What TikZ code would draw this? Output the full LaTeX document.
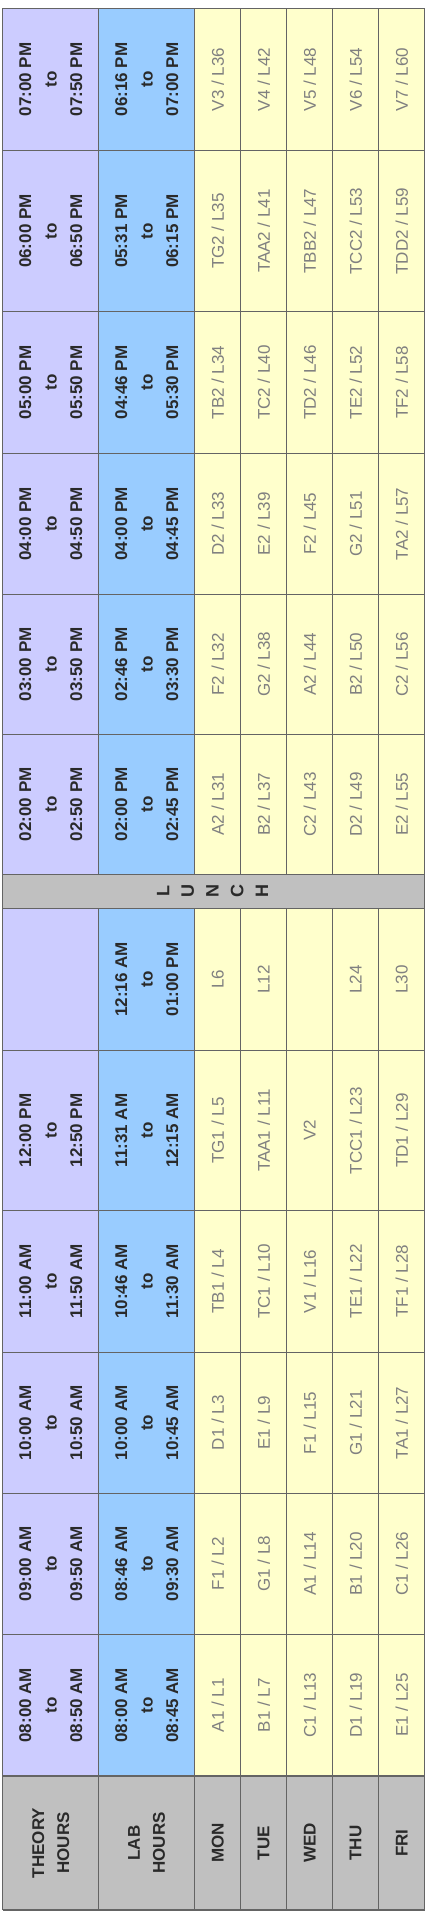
\documentclass[tikz,border=0pt]{standalone}
\usepackage{fontspec}
\setmainfont{Liberation Sans}
\definecolor{theory}{HTML}{CCCCFF}
\definecolor{labc}{HTML}{99CCFF}
\definecolor{slotc}{HTML}{FFFFCC}
\definecolor{hdrc}{HTML}{C0C0C0}
\definecolor{gridc}{HTML}{646464}
\definecolor{slottext}{HTML}{808080}
\definecolor{hdrtext}{HTML}{2A2A2A}
\newcommand\tmx[2]{#1\\to\\#2}
\newcommand\slx[2]{#1 / #2}
\tikzset{
  gridline/.style={draw=gridc, line width=1.1pt},
  timetxt/.style={rotate=90, align=center, inner sep=0pt,
    font=\fontsize{17}{25.5}\selectfont\bfseries, text=hdrtext},
  celltxt/.style={rotate=90, inner sep=0pt,
    font=\fontsize{17}{20}\selectfont, text=slottext},
  daytxt/.style={rotate=90, align=center, inner sep=0pt,
    font=\fontsize{17}{25}\selectfont\bfseries, text=hdrtext},
  lunchtxt/.style={rotate=90, align=center, inner sep=0pt,
    font=\fontsize{18}{24.7}\selectfont\bfseries, text=hdrtext}
}
\begin{document}
\begin{tikzpicture}[x=1pt,y=-1pt]
\useasboundingbox (0,0) rectangle (427,1911);
% fills
\fill[theory] (2.7,8.3) rectangle (98.7,1776);
\fill[labc] (98.7,8.3) rectangle (194.7,1776);
\fill[slotc] (194.7,8.3) rectangle (424.7,1776);
\fill[hdrc] (2.7,874.3) rectangle (424.7,908.3);
\fill[hdrc] (2.7,1776) rectangle (424.7,1910);
% grid
\foreach \y in {8.3,150.5,311.7,453.3,594.3,734.3,874.3,908.3,1050.7,1210.4,1352.3,1493.3,1634.3,1776,1910}
  \draw[gridline] (2.7,\y) -- (424.7,\y);
\draw[gridline] (2.7,8.3) -- (2.7,1910);
\draw[gridline] (424.7,8.3) -- (424.7,1910);
\foreach \x in {98.7,194.7,240.7,286.7,332.7,378.7} {
  \draw[gridline] (\x,8.3) -- (\x,874.3);
  \draw[gridline] (\x,908.3) -- (\x,1910);
}
% rows
\foreach \yt/\yb/\vT/\vL/\vA/\vB/\vC/\vD/\vE [count=\i] in {
  8.3/150.5/{\tmx{07:00 PM}{07:50 PM}}/{\tmx{06:16 PM}{07:00 PM}}/{\slx{V3}{L36}}/{\slx{V4}{L42}}/{\slx{V5}{L48}}/{\slx{V6}{L54}}/{\slx{V7}{L60}},
  150.5/311.7/{\tmx{06:00 PM}{06:50 PM}}/{\tmx{05:31 PM}{06:15 PM}}/{\slx{TG2}{L35}}/{\slx{TAA2}{L41}}/{\slx{TBB2}{L47}}/{\slx{TCC2}{L53}}/{\slx{TDD2}{L59}},
  311.7/453.3/{\tmx{05:00 PM}{05:50 PM}}/{\tmx{04:46 PM}{05:30 PM}}/{\slx{TB2}{L34}}/{\slx{TC2}{L40}}/{\slx{TD2}{L46}}/{\slx{TE2}{L52}}/{\slx{TF2}{L58}},
  453.3/594.3/{\tmx{04:00 PM}{04:50 PM}}/{\tmx{04:00 PM}{04:45 PM}}/{\slx{D2}{L33}}/{\slx{E2}{L39}}/{\slx{F2}{L45}}/{\slx{G2}{L51}}/{\slx{TA2}{L57}},
  594.3/734.3/{\tmx{03:00 PM}{03:50 PM}}/{\tmx{02:46 PM}{03:30 PM}}/{\slx{F2}{L32}}/{\slx{G2}{L38}}/{\slx{A2}{L44}}/{\slx{B2}{L50}}/{\slx{C2}{L56}},
  734.3/874.3/{\tmx{02:00 PM}{02:50 PM}}/{\tmx{02:00 PM}{02:45 PM}}/{\slx{A2}{L31}}/{\slx{B2}{L37}}/{\slx{C2}{L43}}/{\slx{D2}{L49}}/{\slx{E2}{L55}},
  908.3/1050.7/{}/{\tmx{12:16 AM}{01:00 PM}}/{L6}/{L12}/{}/{L24}/{L30},
  1050.7/1210.4/{\tmx{12:00 PM}{12:50 PM}}/{\tmx{11:31 AM}{12:15 AM}}/{\slx{TG1}{L5}}/{\slx{TAA1}{L11}}/{V2}/{\slx{TCC1}{L23}}/{\slx{TD1}{L29}},
  1210.4/1352.3/{\tmx{11:00 AM}{11:50 AM}}/{\tmx{10:46 AM}{11:30 AM}}/{\slx{TB1}{L4}}/{\slx{TC1}{L10}}/{\slx{V1}{L16}}/{\slx{TE1}{L22}}/{\slx{TF1}{L28}},
  1352.3/1493.3/{\tmx{10:00 AM}{10:50 AM}}/{\tmx{10:00 AM}{10:45 AM}}/{\slx{D1}{L3}}/{\slx{E1}{L9}}/{\slx{F1}{L15}}/{\slx{G1}{L21}}/{\slx{TA1}{L27}},
  1493.3/1634.3/{\tmx{09:00 AM}{09:50 AM}}/{\tmx{08:46 AM}{09:30 AM}}/{\slx{F1}{L2}}/{\slx{G1}{L8}}/{\slx{A1}{L14}}/{\slx{B1}{L20}}/{\slx{C1}{L26}},
  1634.3/1776/{\tmx{08:00 AM}{08:50 AM}}/{\tmx{08:00 AM}{08:45 AM}}/{\slx{A1}{L1}}/{\slx{B1}{L7}}/{\slx{C1}{L13}}/{\slx{D1}{L19}}/{\slx{E1}{L25}}%
}{
  \pgfmathsetmacro\yc{(\yt+\yb)/2}
  \node[timetxt] (th\i) at (50.7,\yc) {\vT};
  \node[timetxt] (lb\i) at (146.7,\yc) {\vL};
  \node[celltxt] (mon\i) at (217.7,\yc) {\vA};
  \node[celltxt] (tue\i) at (263.7,\yc) {\vB};
  \node[celltxt] (wed\i) at (309.7,\yc) {\vC};
  \node[celltxt] (thu\i) at (355.7,\yc) {\vD};
  \node[celltxt] (fri\i) at (401.7,\yc) {\vE};
}
% lunch
\node[lunchtxt] (lunch) at (212.5,891.3) {L\\U\\N\\C\\H};
% header row
\node[daytxt] (hth) at (50.7,1843) {THEORY\\HOURS};
\node[daytxt] (hlb) at (146.7,1843) {LAB\\HOURS};
\node[daytxt] (hmon) at (217.7,1843) {MON};
\node[daytxt] (htue) at (263.7,1843) {TUE};
\node[daytxt] (hwed) at (309.7,1843) {WED};
\node[daytxt] (hthu) at (355.7,1843) {THU};
\node[daytxt] (hfri) at (401.7,1843) {FRI};
\end{tikzpicture}
\end{document}
